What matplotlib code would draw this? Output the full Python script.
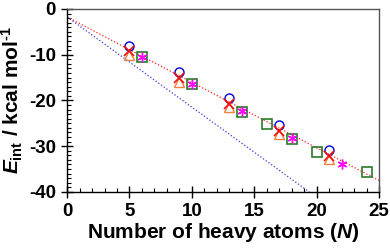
#!/usr/bin/env python3

import matplotlib
matplotlib.use('Agg')
import matplotlib.pyplot as plt
from matplotlib.ticker import MultipleLocator

plt.rcParams['font.family'] = 'Liberation Sans'
plt.rcParams['font.weight'] = 'bold'
plt.rcParams['axes.unicode_minus'] = False
plt.rcParams['mathtext.fontset'] = 'custom'
plt.rcParams['mathtext.rm'] = 'Liberation Sans:bold'
plt.rcParams['mathtext.it'] = 'Liberation Sans:italic:bold'
plt.rcParams['mathtext.bf'] = 'Liberation Sans:bold'

# data
n_circ = [5, 9, 13, 17, 21]
e_circ = [-8.0, -13.8, -19.4, -25.3, -30.8]

n_tri = [5, 9, 13, 17, 21]
e_tri = [-10.0, -15.9, -21.5, -27.4, -32.8]

n_x = [5, 9, 13, 17, 21]
e_x = [-9.2, -15.1, -20.8, -26.6, -32.2]

n_sq = [6, 10, 14, 16, 18, 20, 24]
e_sq = [-10.5, -16.5, -22.5, -25.2, -28.4, -31.2, -35.7]

n_ast = [6, 10, 14, 18, 22]
e_ast = [-10.4, -16.4, -22.4, -28.3, -33.8]

# fitted lines (end points)
fit_red_n = [0, 25]
fit_red_e = [-1.75, -37.5]
fit_blue_n = [0, 19.4]
fit_blue_e = [-1.75, -40.0]

fig = plt.figure(figsize=(3.9, 2.48), dpi=100)
ax = fig.add_axes([0.172, 0.226, 0.8, 0.738])

ax.plot(fit_blue_n, fit_blue_e, ':', color='#3a3ae0', lw=0.9)
ax.plot(fit_red_n, fit_red_e, ':', color='#ff2020', lw=0.9)

ax.plot(n_circ, e_circ, 'o', mfc='none', mec='#0000dd', ms=6.5, mew=1.0)
ax.plot(n_tri, e_tri, '^', mfc='none', mec='#f08040', ms=6.5, mew=1.0)
ax.plot(n_x, e_x, 'x', color='#ee1010', ms=6.5, mew=1.2)
ax.plot(n_sq, e_sq, 's', mfc='none', mec='#2a7a2a', ms=6.5, mew=1.2)
ax.plot(n_ast, e_ast, marker=(6, 2, 0), ls='none', color='#ff00ff', ms=7, mew=1.0)

ax.set_xlim(0, 25)
ax.set_ylim(-40, 0)
ax.xaxis.set_major_locator(MultipleLocator(5))
ax.xaxis.set_minor_locator(MultipleLocator(1))
ax.yaxis.set_major_locator(MultipleLocator(10))
ax.yaxis.set_minor_locator(MultipleLocator(1))

ax.tick_params(which='major', direction='inout', length=8, width=1.0, labelsize=13.5, pad=4)
ax.tick_params(which='minor', direction='in', length=3, width=0.8)
ax.tick_params(top=False, right=False)
for sp in ax.spines.values():
    sp.set_linewidth(1.0)
ax.spines['right'].set_color('#555555')
ax.spines['top'].set_color('#555555')

ax.set_xlabel('Number of heavy atoms ($N$)', fontsize=15, fontweight='bold', labelpad=1)
ax.set_ylabel('$E_\\mathrm{int}$ / kcal mol$^{\\text{-1}}$', fontsize=15, fontweight='bold', labelpad=3)

fig.savefig('out.png', dpi=100)
